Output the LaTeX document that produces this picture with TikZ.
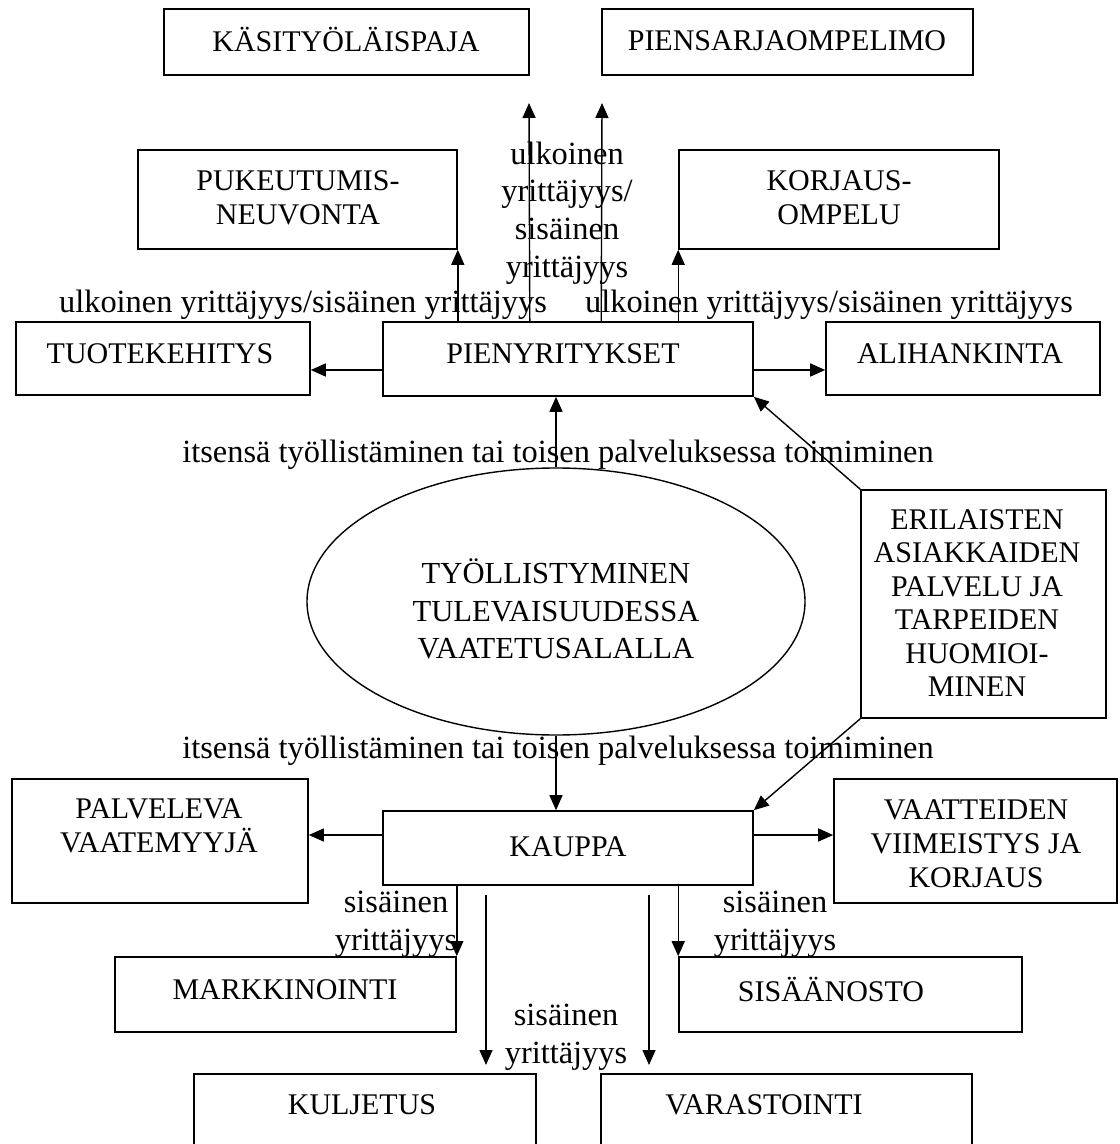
\documentclass[tikz,border=0pt]{standalone}
\usepackage{fontspec}
\setmainfont{Liberation Serif}
\usetikzlibrary{arrows.meta,fit,shapes.geometric}
\begin{document}
\begin{tikzpicture}[x=0.5pt,y=-0.5pt,
  box/.style={draw, line width=0.8pt, inner sep=0pt, rectangle},
  capt/.style={font=\fontsize{15}{17}\selectfont, align=center, inner sep=0pt},
  lbl/.style={font=\fontsize{16.2}{18.8}\selectfont, align=center, inner sep=0pt},
  arr/.style={line width=0.7pt, -{Triangle[length=7.5pt,width=6.5pt]}}]
\useasboundingbox (0,0) rectangle (1119,1144);
\clip (0,0) rectangle (1119,1144);

% boxes
\node[box, fit={(164,9) (529,75)}] (kasi) {};
\node[box, fit={(602,9) (973,75)}] (piens) {};
\node[box, fit={(138,150) (457,249)}] (puk) {};
\node[box, fit={(679,150) (999,249)}] (korj) {};
\node[box, fit={(16,322) (310,395)}] (tuote) {};
\node[box, fit={(383,322) (753,396)}] (pien) {};
\node[box, fit={(826,322) (1100,395)}] (alih) {};
\node[draw, ellipse, line width=0.7pt, inner sep=0pt, minimum width=249pt, minimum height=133.5pt] (ell) at (556,601.5) {};
\node[box, fit={(861,490) (1106,718)}] (eril) {};
\node[box, fit={(12,779) (308,903)}] (palv) {};
\node[box, fit={(383,811) (753,885)}] (kaup) {};
\node[box, fit={(834,779) (1117,903)}] (vaat) {};
\node[box, fit={(115,957) (456,1032)}] (mark) {};
\node[box, fit={(679,957) (1022,1032)}] (sisa) {};
\node[box, fit={(194,1074) (536,1170)}] (kulj) {};
\node[box, fit={(601,1074) (972,1170)}] (vara) {};

% box texts
\node[capt] (kasit) at (346,40) {KÄSITYÖLÄISPAJA};
\node[capt] (pienst) at (787,41) {PIENSARJAOMPELIMO};
\node[capt] (pukt) at (298,198) {PUKEUTUMIS-\\NEUVONTA};
\node[capt] (korjt) at (839,198) {KORJAUS-\\OMPELU};
\node[capt] (tuotet) at (160,354) {TUOTEKEHITYS};
\node[capt] (pient) at (563,354) {PIENYRITYKSET};
\node[capt] (aliht) at (960,354) {ALIHANKINTA};
\node[capt, font=\fontsize{15.3}{18.8}\selectfont] (ellt) at (556,609) {TYÖLLISTYMINEN\\TULEVAISUUDESSA\\VAATETUSALALLA};
\node[capt, font=\fontsize{15}{16.75}\selectfont] (erilt) at (977,603) {ERILAISTEN\\ASIAKKAIDEN\\PALVELU JA\\TARPEIDEN\\HUOMIOI-\\MINEN};
\node[capt] (palvt) at (159,826) {PALVELEVA\\VAATEMYYJÄ};
\node[capt] (kaupt) at (568,847) {KAUPPA};
\node[capt] (vaatt) at (976,844) {VAATTEIDEN\\VIIMEISTYS JA\\KORJAUS};
\node[capt] (markt) at (285,990) {MARKKINOINTI};
\node[capt] (sisat) at (831,989) {SISÄÄNOSTO};
\node[capt] (kuljt) at (362,1105) {KULJETUS};
\node[capt] (varat) at (764,1105) {VARASTOINTI};

% labels
\node[lbl] (l1) at (567,213) {ulkoinen\\yrittäjyys/\\sisäinen\\yrittäjyys};
\node[lbl] (l2) at (303,305) {ulkoinen yrittäjyys/sisäinen yrittäjyys};
\node[lbl] (l3) at (829,305) {ulkoinen yrittäjyys/sisäinen yrittäjyys};
\node[lbl] (l4) at (558,455) {itsensä työllistäminen tai toisen palveluksessa toimiminen};
\node[lbl] (l5) at (558,751) {itsensä työllistäminen tai toisen palveluksessa toimiminen};
\node[lbl] (l6) at (396,924) {sisäinen\\yrittäjyys};
\node[lbl] (l7) at (775,924) {sisäinen\\yrittäjyys};
\node[lbl] (l8) at (566,1037) {sisäinen\\yrittäjyys};

% free ends
\coordinate (up1) at (529,103);
\coordinate (up2) at (602,103);
\coordinate (h1) at (0,370);
\coordinate (h2) at (0,835);
\coordinate (f1s) at (486,895);
\coordinate (f1e) at (486,1065);
\coordinate (f2s) at (649,895);
\coordinate (f2e) at (649,1065);

% connectors
\draw[arr] (pien.north -| puk.south east) -- (puk.south east);
\draw[arr] (pien.north -| kasi.south east) -- (up1);
\draw[arr] (pien.north -| piens.south west) -- (up2);
\draw[arr] (pien.north -| korj.south west) -- (korj.south west);
\draw[arr] (pien.west |- h1) -- (tuote.east |- h1);
\draw[arr] (pien.east |- h1) -- (alih.west |- h1);
\draw[arr] (ell.north) -- (pien.south -| ell.north);
\draw[arr] (eril.north west) -- (pien.south east);
\draw[arr] (eril.south west) -- (kaup.north east);
\draw[arr] (ell.south) -- (kaup.north -| ell.south);
\draw[arr] (kaup.west |- h2) -- (palv.east |- h2);
\draw[arr] (kaup.east |- h2) -- (vaat.west |- h2);
\draw[arr] (kaup.south -| mark.north east) -- (mark.north east);
\draw[arr] (kaup.south -| sisa.north west) -- (sisa.north west);
\draw[arr] (f1s) -- (f1e);
\draw[arr] (f2s) -- (f2e);
\end{tikzpicture}
\end{document}
